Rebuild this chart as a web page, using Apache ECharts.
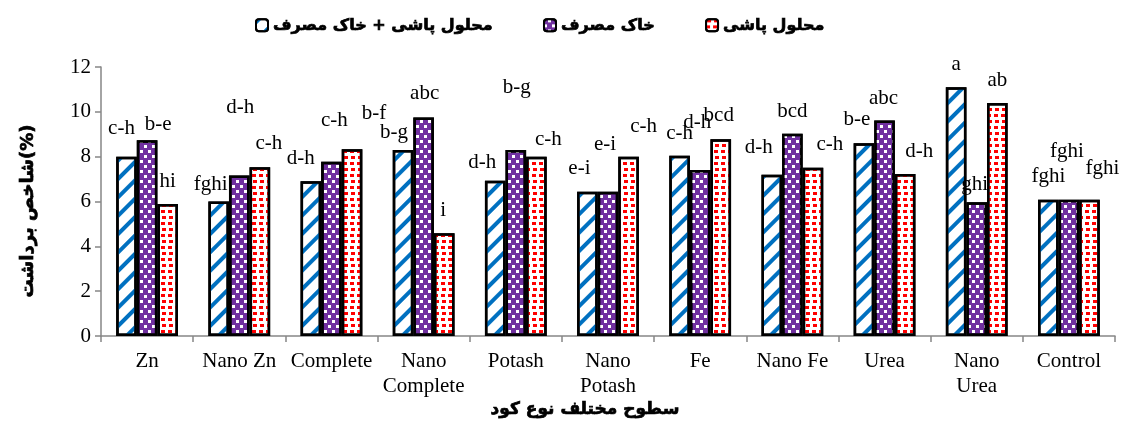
<!DOCTYPE html>
<html>
<head>
<meta charset="utf-8">
<script src="https://cdn.jsdelivr.net/npm/echarts@6/dist/echarts.min.js"></script>
<style>
html,body{margin:0;padding:0;background:#fff;}
#chart{width:1125px;height:423px;}
</style>
</head>
<body>
<div id="chart"></div>
<script>
// ---- data ----
const categories = ['Zn', 'Nano Zn', 'Complete', 'Nano\nComplete', 'Potash', 'Nano\nPotash', 'Fe', 'Nano Fe', 'Urea', 'Nano\nUrea', 'Control'];
const seriesNames = ['محلول پاشی + خاک مصرف', 'خاک مصرف', 'محلول پاشی'];
const combinedValues = [8.0, 6.0, 6.9, 8.3, 6.93, 6.44, 8.04, 7.19, 8.6, 11.1, 6.08];
const soilValues = [8.73, 7.16, 7.77, 9.75, 8.3, 6.44, 7.41, 9.02, 9.61, 5.97, 6.08];
const sprayValues = [5.89, 7.53, 8.33, 4.58, 8.0, 8.0, 8.78, 7.51, 7.23, 10.39, 6.08];
const combinedLetters = ['c-h', 'fghi', 'd-h', 'b-g', 'd-h', 'e-i', 'c-h', 'd-h', 'b-e', 'a', 'fghi'];
const soilLetters = ['b-e', 'd-h', 'c-h', 'abc', 'b-g', 'e-i', 'd-h', 'bcd', 'abc', 'ghi', 'fghi'];
const sprayLetters = ['hi', 'c-h', 'b-f', 'i', 'c-h', 'c-h', 'bcd', 'c-h', 'd-h', 'ab', 'fghi'];
const yTicks = { min: 0, max: 12, interval: 2 };
const xTitle = 'سطوح مختلف نوع کود';
const yTitle = 'شاخص برداشت(%)';

// ---- layout: manual nudges of the letter annotations (pixels) ----
const labelNudge = [
  { dx: [-5, -8, -10, -9, -13, -8, 0, -13, -7, 0, 0], dy: [15, 4, 9, 4, 5, 10, 9, 14, 10, 9, 10] },
  { dx: [11, 1, 3, 1, 1, -3, -3, 0, -1, -2, -2], dy: [2, 55, 28, 10, 49, 34, 34, 9, 9, 4, 35] },
  { dx: [0, 9, 22, -1, 12, 15, -2, 17, 14, 0, 13], dy: [9, 10, 22, 9, 4, 17, 10, 10, 9, 9, 18] }
];

const serif = "Liberation Serif";
const arabic = "DejaVu Sans";
const boldStroke = { textBorderColor: '#000', textBorderWidth: 0.7 };

const styles = [
  { color: '#FFFFFF', decal: { symbol: 'rect', symbolSize: 1, color: '#0070C0', dashArrayX: [1, 0], dashArrayY: [4, 9], rotation: -Math.PI / 4 } },
  { color: '#7030A0', decal: { symbol: 'rect', symbolSize: 1, color: '#FFFFFF', dashArrayX: [[3, 5], [0, 4, 3, 1]], dashArrayY: [3, 2], rotation: 0 } },
  { color: '#FFFFFF', decal: { symbol: 'rect', symbolSize: 1, color: '#FF0000', dashArrayX: [[4, 3], [0, 1, 4, 2]], dashArrayY: [3, 3], rotation: 0 } }
];

const values = [combinedValues, soilValues, sprayValues];
const letters = [combinedLetters, soilLetters, sprayLetters];

const series = values.map((vals, s) => ({
  name: seriesNames[s],
  type: 'bar',
  barGap: '0%',
  barCategoryGap: '33%',
  itemStyle: {
    color: styles[s].color,
    decal: styles[s].decal,
    borderColor: '#000',
    borderWidth: 2.5
  },
  data: vals.map((v, i) => ({
    value: v,
    label: {
      show: true,
      position: 'top',
      distance: 3,
      offset: [labelNudge[s].dx[i], -labelNudge[s].dy[i]],
      formatter: letters[s][i],
      fontFamily: serif,
      fontSize: 21,
      color: '#000'
    }
  }))
}));

const chart = echarts.init(document.getElementById('chart'), null, { renderer: 'canvas' });
chart.setOption({
  animation: false,
  backgroundColor: '#fff',
  legend: {
    data: seriesNames,
    top: 12,
    left: 250,
    itemWidth: 12,
    itemHeight: 12,
    itemGap: 50,
    textStyle: Object.assign({ fontFamily: arabic, fontSize: 16, fontWeight: 'bold', color: '#000' }, boldStroke)
  },
  grid: { left: 101, right: 10, top: 67, bottom: 87, containLabel: false },
  xAxis: {
    type: 'category',
    data: categories,
    axisLine: { lineStyle: { color: '#868686', width: 1.5 } },
    axisTick: { show: true, length: 6, lineStyle: { color: '#868686', width: 1.5 } },
    axisLabel: { interval: 0, margin: 13, fontFamily: serif, fontSize: 21, lineHeight: 25, color: '#000' }
  },
  yAxis: {
    type: 'value',
    min: yTicks.min,
    max: yTicks.max,
    interval: yTicks.interval,
    splitLine: { show: false },
    axisLine: { show: true, lineStyle: { color: '#868686', width: 1.5 } },
    axisTick: { show: true, length: 6, lineStyle: { color: '#868686', width: 1.5 } },
    axisLabel: { margin: 10, fontFamily: serif, fontSize: 21, color: '#000' }
  },
  graphic: [{
    type: 'text',
    x: 28,
    y: 211,
    rotation: Math.PI / 2,
    style: Object.assign({ text: yTitle, fontFamily: arabic, fontSize: 18, fontWeight: 'bold', fill: '#000', align: 'center', verticalAlign: 'middle' }, { stroke: '#000', lineWidth: 0.7 })
  }, {
    type: 'text',
    x: 585,
    y: 410,
    style: Object.assign({ text: xTitle, fontFamily: arabic, fontSize: 17, fontWeight: 'bold', fill: '#000', align: 'center', verticalAlign: 'middle' }, { stroke: '#000', lineWidth: 0.7 })
  }],
  series: series
});
</script>
</body>
</html>
